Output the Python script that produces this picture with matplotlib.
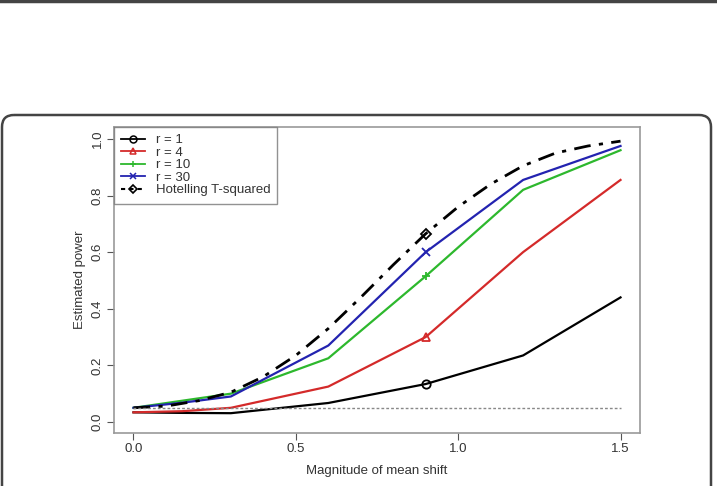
import numpy as np
from matplotlib import pyplot as plt
from matplotlib.patches import FancyBboxPatch
from matplotlib.lines import Line2D

plt.rcParams['font.family'] = ['Liberation Sans', 'DejaVu Sans']

# =============================================================================
# Data
# =============================================================================

shift = [0.0, 0.15, 0.3, 0.6, 0.9, 1.2, 1.5]
power_r1 = [0.034, 0.032, 0.031, 0.067, 0.134, 0.235, 0.44]
power_r4 = [0.034, 0.038, 0.050, 0.125, 0.30, 0.60, 0.855]
power_r10 = [0.050, 0.075, 0.100, 0.225, 0.515, 0.82, 0.96]
power_r30 = [0.050, 0.068, 0.090, 0.270, 0.600, 0.855, 0.975]

shift_t2 = [0.0, 0.1, 0.2, 0.3, 0.4, 0.5, 0.6, 0.7, 0.8, 0.9, 1.0, 1.1, 1.2,
            1.3, 1.4, 1.5]
power_t2 = [0.050, 0.056, 0.075, 0.105, 0.160, 0.235, 0.330, 0.440, 0.555,
            0.665, 0.760, 0.840, 0.905, 0.950, 0.975, 0.992]

alpha_level = 0.05
labels = ['r = 1', 'r = 4', 'r = 10', 'r = 30', 'Hotelling T-squared']

# =============================================================================
# Plot
# =============================================================================

W, H = 717, 486
fig = plt.figure(figsize=(W / 100, H / 100), dpi=100)

# page frames (figure pixel coords)
frame_ax = fig.add_axes([0, 0, 1, 1])
frame_ax.set_xlim(0, W)
frame_ax.set_ylim(H, 0)
frame_ax.axis('off')
frame_ax.plot([0, W], [1.5, 1.5], color='#444444', lw=2.5)
frame_ax.add_patch(FancyBboxPatch((2, 115), 709, 420,
                                  boxstyle='round,pad=0,rounding_size=12',
                                  fill=False, ec='#444444', lw=1.8))

left, right, top, bottom = 114, 640, 127, 433
ax = fig.add_axes([left / W, 1 - bottom / H, (right - left) / W,
                   (bottom - top) / H])

colors = ['black', '#d42a2a', '#2db82d', '#2323b0']
series = [power_r1, power_r4, power_r10, power_r30]
markers = ['o', '^', '+', 'x']
idx = shift.index(0.9)
for y, c, m in zip(series, colors, markers):
    ax.plot(shift, y, color=c, lw=1.6)
    ax.plot(shift[idx], y[idx], ls='none', marker=m, mfc='none', mec=c,
            ms=6, mew=1.3)

ax.plot(shift_t2, power_t2, color='black', lw=2.0, ls=(0, (6, 3, 1.5, 3)))
i9 = shift_t2.index(0.9)
ax.plot(shift_t2[i9], power_t2[i9], ls='none', marker='D', mfc='none',
        mec='black', ms=5.5, mew=1.3)

ax.plot([0, 1.5], [alpha_level, alpha_level], color='#888888', lw=1.0,
        ls=(0, (2, 1.5)))

ax.set_xlim(-0.06, 1.56)
ax.set_ylim(-0.039, 1.042)
ax.set_xticks([0.0, 0.5, 1.0, 1.5])
ax.set_xticklabels(['0.0', '0.5', '1.0', '1.5'])
ax.set_yticks([0.0, 0.2, 0.4, 0.6, 0.8, 1.0])
ax.set_yticklabels(['0.0', '0.2', '0.4', '0.6', '0.8', '1.0'],
                   rotation=90, va='center')
ax.tick_params(length=5, width=0.8, colors='#555555', labelcolor='#333333',
               labelsize=9.5, pad=2.5)
for s in ax.spines.values():
    s.set_color('#999999')
    s.set_linewidth(1.2)
ax.set_xlabel('Magnitude of mean shift', fontsize=9.5, color='#333333',
              labelpad=7)
ax.set_ylabel('Estimated power', fontsize=9.5, color='#333333', labelpad=4)

handles = [Line2D([], [], color=c, lw=1.3, marker=m, mfc='none', mec=c,
                  ms=5, mew=1.1) for c, m in zip(colors, markers)]
handles.append(Line2D([], [], color='black', lw=1.5, ls=(0, (2, 2)),
                      marker='D', mfc='none', mec='black', ms=4.5, mew=1.2))
leg = ax.legend(handles, labels, loc='upper left', fontsize=9.5,
                frameon=True, fancybox=False, borderaxespad=0,
                handlelength=1.8, handletextpad=0.8, labelspacing=0.02,
                borderpad=0.55)
leg.get_frame().set_edgecolor('#777777')
leg.get_frame().set_linewidth(1.0)
for t in leg.get_texts():
    t.set_color('#333333')

plt.savefig('out.png', dpi=100)
